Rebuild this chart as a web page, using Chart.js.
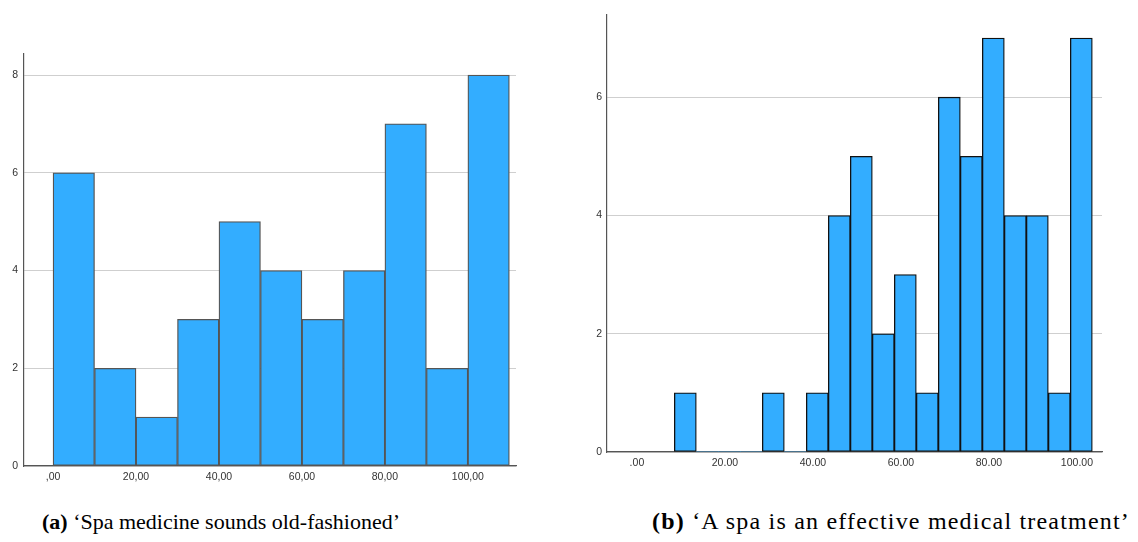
<!DOCTYPE html>
<html>
<head>
<meta charset="utf-8">
<script src="https://cdn.jsdelivr.net/npm/chart.js@4/dist/chart.umd.min.js"></script>
<style>
  html, body { margin: 0; padding: 0; background: #fff; }
  body { width: 1138px; height: 542px; position: relative; overflow: hidden; }
  #ca { position: absolute; left: 0; top: 0; }
  #cb { position: absolute; left: 570px; top: 0; }
  .cap { position: absolute; font-family: "Liberation Serif", "DejaVu Serif", serif;
         color: #000; white-space: nowrap; }
  .cap b { font-weight: bold; }
  #capA { left: 42px; top: 509px; font-size: 22px; }
  #capB { left: 652px; top: 508px; font-size: 24px; letter-spacing: 1.2px; }
</style>
</head>
<body>
<canvas id="ca" width="560" height="500"></canvas>
<canvas id="cb" width="568" height="490"></canvas>
<div class="cap" id="capA"><b>(a)</b> ‘Spa medicine sounds old-fashioned’</div>
<div class="cap" id="capB"><b>(b)</b> ‘A spa is an effective medical treatment’</div>

<script>
// (a) bin midpoints (width 10) and counts
const binsA = [5, 15, 25, 35, 45, 55, 65, 75, 85, 95, 105];
const countsA = [6, 2, 1, 3, 5, 4, 3, 4, 7, 2, 8];

// (b) bin midpoints (width 5) and counts
const binsB = [11, 16, 21, 26, 31, 36, 41, 46, 51, 56, 61, 66, 71, 76, 81, 86, 91, 96, 101];
const countsB = [1, 0, 0, 0, 1, 0, 1, 4, 5, 2, 3, 1, 6, 5, 7, 4, 4, 1, 7];

// axis ticks
const xTickValues = [0, 20, 40, 60, 80, 100];
const xTickLabelsA = [',00', '20,00', '40,00', '60,00', '80,00', '100,00'];
const xTickLabelsB = ['.00', '20.00', '40.00', '60.00', '80.00', '100.00'];
const yTicksA = [0, 2, 4, 6, 8];
const yTicksB = [0, 2, 4, 6];

const BAR_FILL = '#33adff';
const TICK_FONT = { family: '"Liberation Sans", Arial, sans-serif', size: 10.5 };

function histogram(canvasId, bins, counts, xLabels, yTicks, opt) {
  const points = bins.map((b, i) => ({ x: b, y: counts[i] }));
  return new Chart(document.getElementById(canvasId), {
    type: 'bar',
    data: {
      datasets: [{
        data: points,
        backgroundColor: BAR_FILL,
        borderColor: opt.edge,
        borderWidth: c => (c.raw && c.raw.y > 0 ? 1.3 : 0),
        borderSkipped: false,
        barPercentage: 1,
        categoryPercentage: 1
      }]
    },
    options: {
      responsive: false,
      animation: false,
      events: [],
      layout: { padding: { top: opt.top, right: opt.right, left: 0, bottom: 0 } },
      plugins: { legend: { display: false }, tooltip: { enabled: false } },
      scales: {
        x: {
          type: 'linear',
          offset: false,
          min: opt.xMin,
          max: opt.xMax,
          afterBuildTicks: s => { s.ticks = xTickValues.map(v => ({ value: v })); },
          afterFit: s => { s.height = opt.xHeight; },
          ticks: {
            font: TICK_FONT, color: '#333', padding: 5, maxRotation: 0, autoSkip: false,
            callback: (v) => xLabels[xTickValues.indexOf(v)]
          },
          grid: { display: false, drawTicks: false },
          border: { display: true, color: '#555', width: 1.2 }
        },
        y: {
          min: 0,
          max: opt.yMax,
          afterBuildTicks: s => { s.ticks = yTicks.map(v => ({ value: v })); },
          afterFit: s => { s.width = opt.yWidth; },
          ticks: { font: TICK_FONT, color: '#333', padding: opt.yPad },
          grid: { color: '#cfcfcf', lineWidth: 1, drawTicks: false },
          border: { display: true, color: '#555', width: 1.2 }
        }
      }
    }
  });
}

histogram('ca', binsA, countsA, xTickLabelsA, yTicksA, {
  edge: '#555555', top: 54, right: 44, xHeight: 34, yWidth: 24, yPad: 6,
  xMin: -7.0, xMax: 111.6, yMax: 8.43
});

histogram('cb', binsB, countsB, xTickLabelsB, yTicksB, {
  edge: '#111111', top: 15, right: 36, xHeight: 38, yWidth: 37, yPad: 5,
  xMin: -6.8, xMax: 105.7, yMax: 7.39
});
</script>
</body>
</html>
